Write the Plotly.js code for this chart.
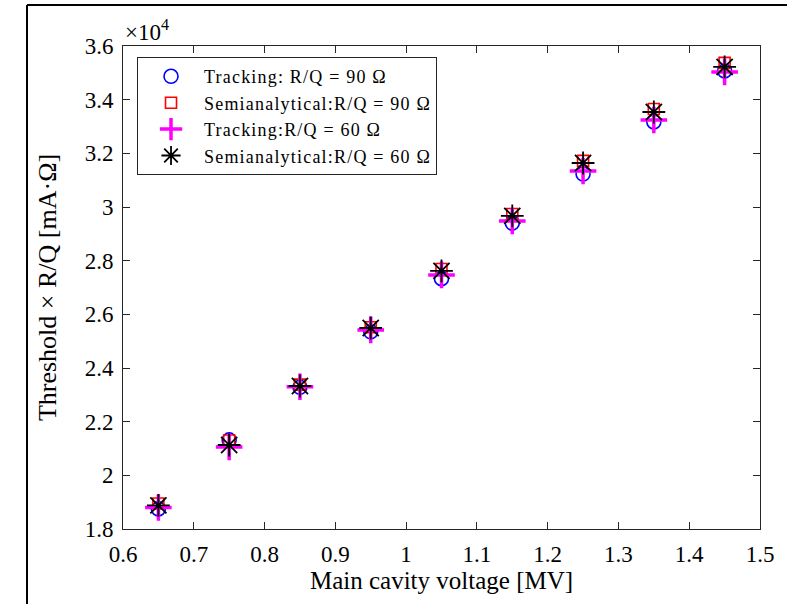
<!DOCTYPE html>
<html>
<head>
<meta charset="utf-8">
<script src="https://cdn.plot.ly/plotly-3.0.1.min.js"></script>
<style>
  html, body { margin: 0; padding: 0; background: #fff; }
  #chart { width: 787px; height: 604px; }
</style>
</head>
<body>
<div id="chart"></div>
<script>
// Main cavity voltage [MV]
const voltage = [0.65, 0.75, 0.85, 0.95, 1.05, 1.15, 1.25, 1.35, 1.45];

// Threshold × R/Q [mA·Ω]
const tracking90 = [18750, 21320, 23280, 25350, 27330, 29400, 31230, 33170, 35070];
const semiAnalytic90 = [18950, 21300, 23380, 25520, 27690, 29740, 31720, 33650, 35370];
const tracking60 = [18800, 21060, 23300, 25420, 27470, 29480, 31340, 33240, 35030];
const semiAnalytic60 = [18880, 21130, 23330, 25490, 27620, 29670, 31640, 33540, 35220];

const seriesNames = [
  'Tracking: R/Q = 90 Ω',
  'Semianalytical:R/Q = 90 Ω',
  'Tracking:R/Q = 60 Ω',
  'Semianalytical:R/Q = 60 Ω'
];

// y ticks are shown in units of 10^4
const yTickVals = [18000, 20000, 22000, 24000, 26000, 28000, 30000, 32000, 34000, 36000];
const yTickText = ['1.8', '2', '2.2', '2.4', '2.6', '2.8', '3', '3.2', '3.4', '3.6'];

const serif = 'Liberation Serif, Times New Roman, serif';
const axisColor = '#262626';

// slightly loosened lettering for the legend entries
const legendLabel = s => '<span style="letter-spacing:1.2px">' + s + '</span>';

const traces = [
  {
    x: voltage, y: tracking90, name: legendLabel(seriesNames[0]),
    type: 'scatter', mode: 'markers',
    marker: { symbol: 'circle-open', size: 14, color: '#0000ff', line: { color: '#0000ff', width: 1.6 } }
  },
  {
    x: voltage, y: semiAnalytic90, name: legendLabel(seriesNames[1]),
    type: 'scatter', mode: 'markers',
    marker: { symbol: 'square-open', size: 11, color: '#ff0000', line: { color: '#ff0000', width: 1.6 } }
  },
  {
    x: voltage, y: tracking60, name: legendLabel(seriesNames[2]),
    type: 'scatter', mode: 'markers',
    marker: { symbol: 'cross-thin-open', size: 19, color: '#ff00ff', line: { color: '#ff00ff', width: 3.5 } }
  },
  {
    x: voltage, y: semiAnalytic60, name: legendLabel(seriesNames[3]),
    type: 'scatter', mode: 'markers',
    marker: { symbol: 'asterisk-open', size: 19, color: '#000000', line: { color: '#000000', width: 1.8 } }
  }
];

const layout = {
  width: 787,
  height: 604,
  paper_bgcolor: '#ffffff',
  plot_bgcolor: '#ffffff',
  margin: { l: 123, r: 27, t: 46, b: 75 },
  font: { family: serif, size: 23, color: '#000' },
  showlegend: true,
  legend: {
    x: 0.022, y: 0.977, xanchor: 'left', yanchor: 'top',
    bgcolor: '#ffffff',
    bordercolor: axisColor, borderwidth: 1,
    itemwidth: 56,
    font: { family: serif, size: 18, color: '#000' }
  },
  xaxis: {
    range: [0.6, 1.5],
    tick0: 0.6, dtick: 0.1,
    ticks: 'inside', ticklen: 7, tickwidth: 1, tickcolor: axisColor,
    showline: true, linecolor: axisColor, linewidth: 1, mirror: 'ticks',
    showgrid: false, zeroline: false,
    ticklabelstandoff: 4,
    tickfont: { family: serif, size: 23, color: '#000' },
    title: { text: 'Main cavity voltage [MV]', font: { family: serif, size: 25, color: '#000' }, standoff: 4 }
  },
  yaxis: {
    range: [18000, 36000],
    tickvals: yTickVals, ticktext: yTickText,
    ticks: 'inside', ticklen: 7, tickwidth: 1, tickcolor: axisColor,
    showline: true, linecolor: axisColor, linewidth: 1, mirror: 'ticks',
    showgrid: false, zeroline: false,
    ticklabelstandoff: 4,
    tickfont: { family: serif, size: 23, color: '#000' },
    title: { text: 'Threshold × R/Q [mA·Ω]', font: { family: serif, size: 26, color: '#000' }, standoff: 20 }
  },
  annotations: [
    {
      xref: 'paper', yref: 'paper', x: 0.0, y: 1.0,
      xanchor: 'left', yanchor: 'bottom', yshift: -1,
      text: '×10<sup>4</sup>', showarrow: false,
      font: { family: serif, size: 23, color: '#000' }
    }
  ],
  shapes: [
    // outer figure frame (left and top edges)
    { type: 'line', xref: 'paper', yref: 'paper', x0: -0.1507, x1: -0.1507, y0: -0.3, y1: 1.0849,
      line: { color: '#000', width: 2 } },
    { type: 'line', xref: 'paper', yref: 'paper', x0: -0.1507, x1: 1.2, y0: 1.0849, y1: 1.0849,
      line: { color: '#000', width: 2 } }
  ]
};

Plotly.newPlot('chart', traces, layout, { displayModeBar: false, staticPlot: true });
</script>
</body>
</html>
